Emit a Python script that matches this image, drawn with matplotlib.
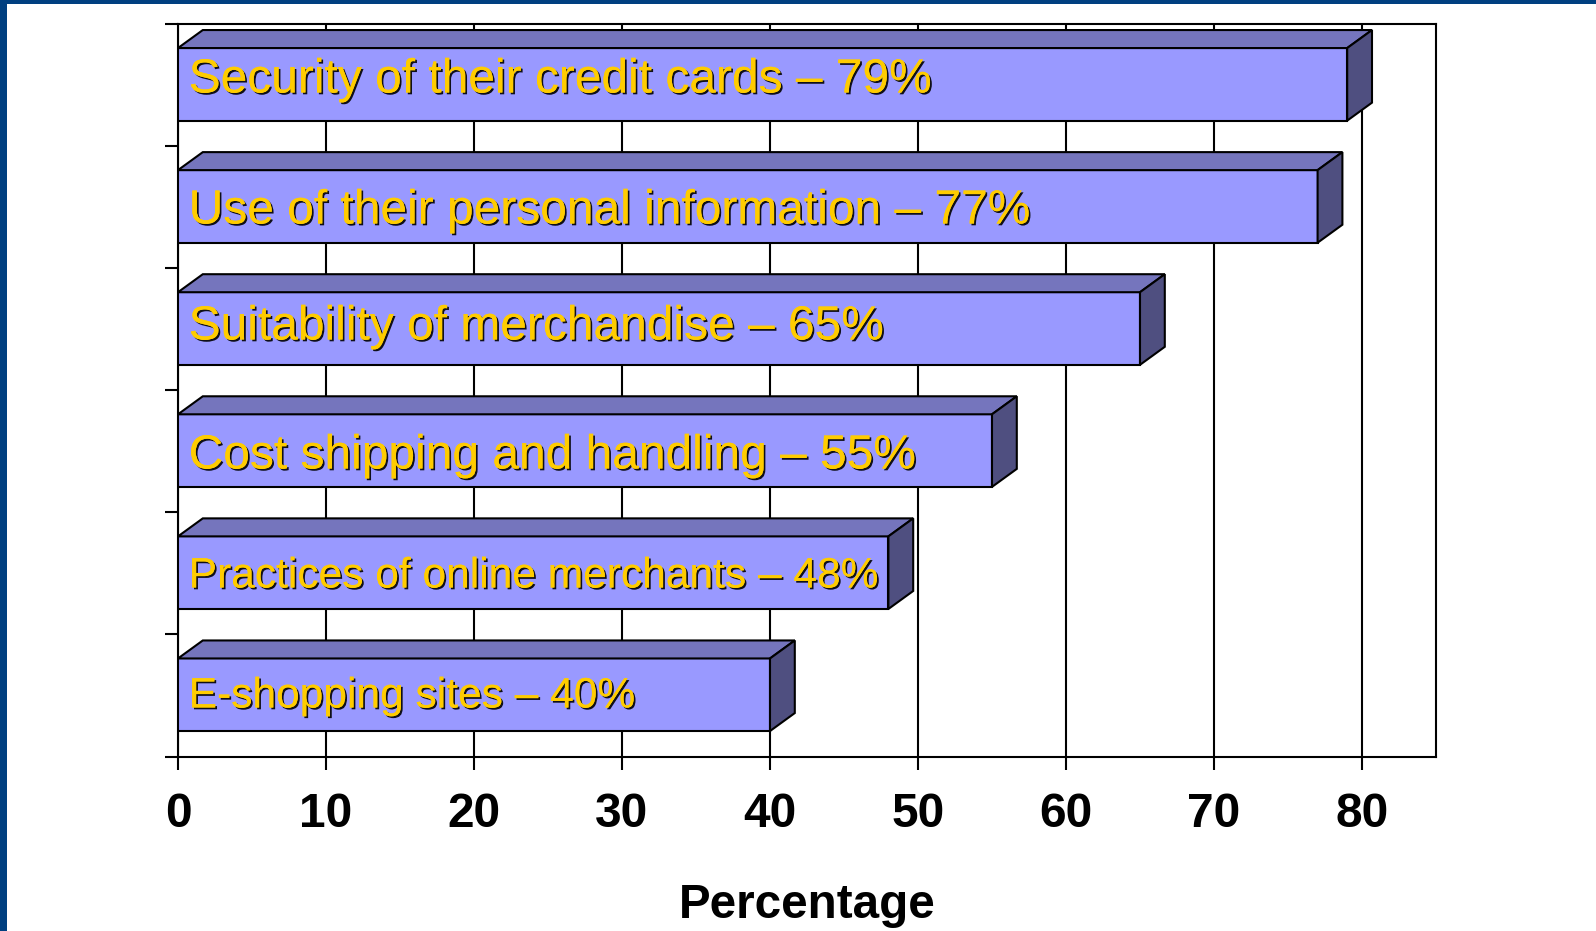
import matplotlib
matplotlib.use("Agg")
import matplotlib.pyplot as plt
import matplotlib.patheffects as pe
from matplotlib.patches import Rectangle

categories = ["Security of their credit cards", "Use of their personal information",
              "Suitability of merchandise", "Cost shipping and handling",
              "Practices of online merchants", "E-shopping sites"]
values = [79, 77, 65, 55, 48, 40]
x_ticks = [0, 10, 20, 30, 40, 50, 60, 70, 80]
x_label = "Percentage"

# layout / style
W, H = 1596, 931
L, R, T, B = 178, 1436, 24, 756.5
label_size = [34.5, 34.5, 34.5, 34.5, 30.6, 30.6]
baseline_px = [92.5, 223.5, 339.5, 468.5, 587.5, 707.5]
FRONT, TOP, SIDE = "#9999FF", "#7575BD", "#4F4F80"
TEXT = "#FFCC00"
BORDER = "#003F80"
LW = 1.5

plt.rcParams["font.family"] = ["Liberation Sans", "DejaVu Sans"]
fig = plt.figure(figsize=(W / 100, H / 100), dpi=100, facecolor="white")
fig.add_artist(Rectangle((0, 1 - 4 / H), 1, 4 / H, transform=fig.transFigure, color=BORDER, lw=0))
fig.add_artist(Rectangle((0, 0), 6.5 / W, 1, transform=fig.transFigure, color=BORDER, lw=0))

ax = fig.add_axes([L / W, 1 - B / H, (R - L) / W, (B - T) / H])
ax.set_xlim(0, 85)
ax.set_ylim(len(values) - 0.5, -0.5)
px_x = (R - L) / 85
px_y = (B - T) / len(values)
dx, dy = 24.8 / px_x, 18 / px_y
h = 72.6 / px_y
shift = -0.7 / px_y

ax.set_axisbelow(True)
ax.xaxis.grid(True, color="black", lw=LW)
ax.set_xticks(x_ticks)
ax.set_yticks([i - 0.5 for i in range(len(values) + 1)])
ax.set_yticklabels([])
ax.tick_params(axis="x", length=9.5, width=LW, pad=16, labelsize=34.5)
ax.tick_params(axis="y", length=9.5, width=LW)
for lab in ax.get_xticklabels():
    lab.set_fontweight("bold")
for s in ax.spines.values():
    s.set_linewidth(LW)

for i, (v, name) in enumerate(zip(values, categories)):
    t = i + shift - h / 2
    b = t + h
    ax.barh(i + shift, v, height=h, color=FRONT, edgecolor="black", lw=LW, zorder=3)
    ax.fill([0, dx, v + dx, v], [t, t - dy, t - dy, t], facecolor=TOP, edgecolor="black", lw=LW, zorder=3)
    ax.fill([v, v + dx, v + dx, v], [t, t - dy, b - dy, b], facecolor=SIDE, edgecolor="black", lw=LW, zorder=3)
    txt = fig.text(188.7 / W, 1 - baseline_px[i] / H, f"{name} \u2013 {v}%", color=TEXT,
                   fontsize=label_size[i], va="baseline", ha="left", zorder=5)
    txt.set_path_effects([pe.withSimplePatchShadow(offset=(1.3, -1.3), shadow_rgbFace="black", alpha=0.9),
                          pe.Normal()])

fig.text(807 / W, 1 - 906 / H, x_label, fontsize=34.3, fontweight="bold", ha="center", va="center")
fig.savefig("out.png", dpi=100)
